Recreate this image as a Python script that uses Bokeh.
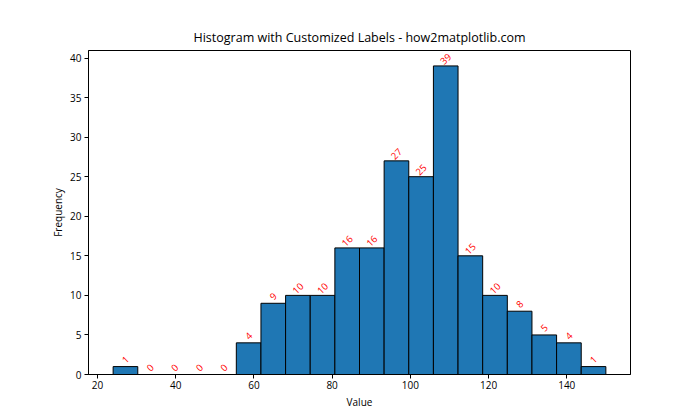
from bokeh.plotting import figure
from bokeh.models import ColumnDataSource, Range1d, FixedTicker
from bokeh.core.properties import value
from bokeh.embed import file_html
from bokeh.resources import INLINE
import math

# Data
bin_edges = [24.0, 30.3, 36.6, 42.9, 49.2, 55.5, 61.8, 68.1, 74.4, 80.7, 87.0,
             93.3, 99.6, 105.9, 112.2, 118.5, 124.8, 131.1, 137.4, 143.7, 150.0]
counts = [1, 0, 0, 0, 0, 4, 9, 10, 10, 16, 16, 27, 25, 39, 15, 10, 8, 5, 4, 1]
x_ticks = [20, 40, 60, 80, 100, 120, 140]
y_ticks = [0, 5, 10, 15, 20, 25, 30, 35, 40]

FONT = "Open Sans"

lefts = bin_edges[:-1]
rights = bin_edges[1:]
centers = [(a + b) / 2 for a, b in zip(lefts, rights)]
src = ColumnDataSource(dict(left=lefts, right=rights, top=counts,
                            center=centers, label=[str(c) for c in counts]))

p = figure(width=684, height=404, output_backend="svg", toolbar_location=None,
           title="Histogram with Customized Labels - how2matplotlib.com",
           frame_width=542, frame_height=324,
           min_border_left=88, min_border_right=54,
           min_border_top=50, min_border_bottom=30)

span = bin_edges[-1] - bin_edges[0]
p.x_range = Range1d(bin_edges[0] - 0.05 * span, bin_edges[-1] + 0.05 * span)
p.y_range = Range1d(0, max(counts) * 1.05)

p.quad(left="left", right="right", bottom=0, top="top", source=src,
       fill_color="#1f77b4", line_color="black", line_width=1)

p.text(x="center", y="top", text="label", source=src,
       text_color="red", text_font=value(FONT), text_font_size="9.5px",
       angle=math.pi / 4, text_align="center", text_baseline="middle",
       y_offset=-7)

p.title.text_font = FONT
p.title.text_font_size = "12.5px"
p.title.text_font_style = "normal"
p.title.text_color = "black"
p.title.align = "center"

p.xgrid.visible = False
p.ygrid.visible = False
p.outline_line_color = "black"
p.outline_line_width = 1

for ax in (p.xaxis[0], p.yaxis[0]):
    ax.axis_label_text_font = FONT
    ax.axis_label_text_font_size = "10px"
    ax.axis_label_text_font_style = "normal"
    ax.axis_label_text_color = "black"
    ax.major_label_text_font = FONT
    ax.major_label_text_font_size = "10px"
    ax.major_label_text_color = "black"
    ax.major_tick_in = 0
    ax.major_tick_out = 4
    ax.minor_tick_in = 0
    ax.minor_tick_out = 0
    ax.axis_line_color = "black"
    ax.major_tick_line_color = "black"

p.xaxis.axis_label = "Value"
p.yaxis.axis_label = "Frequency"
p.xaxis.ticker = FixedTicker(ticks=x_ticks)
p.yaxis.ticker = FixedTicker(ticks=y_ticks)
p.xaxis.major_label_standoff = 2
p.yaxis.major_label_standoff = 3
p.xaxis.axis_label_standoff = 3
p.yaxis.axis_label_standoff = 2

open("out.html", "w").write(file_html(p, INLINE))
